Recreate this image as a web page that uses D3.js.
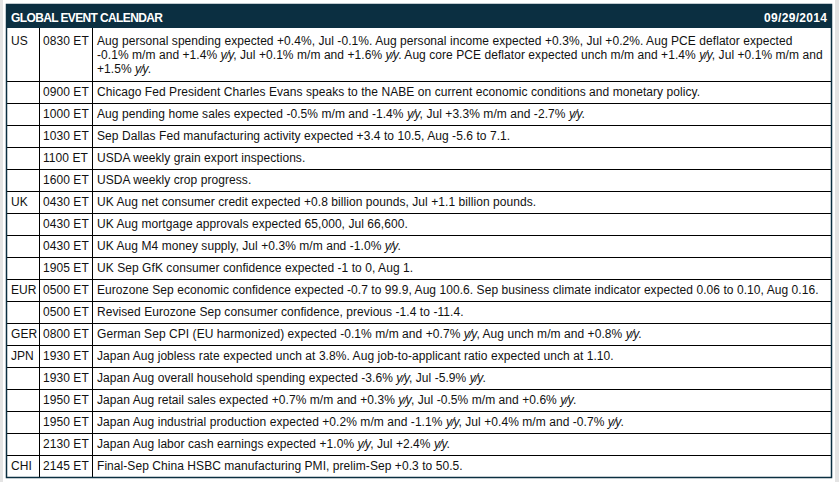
<!DOCTYPE html>
<html>
<head>
<meta charset="utf-8">
<script src="https://cdn.jsdelivr.net/npm/d3@7"></script>
<style>
  body { margin: 0; background: #fff; }
  svg { display: block; font-family: Arial, "Liberation Sans", sans-serif; }
</style>
</head>
<body>
<div id="chart"></div>
<script>
const title = "GLOBAL EVENT CALENDAR";
const dateLabel = "09/29/2014";

const countries = ["US", "", "", "", "", "", "UK", "", "", "", "EUR", "", "GER", "JPN", "", "", "", "", "CHI"];
const times = ["0830 ET", "0900 ET", "1000 ET", "1030 ET", "1100 ET", "1600 ET", "0430 ET", "0430 ET", "0430 ET", "1905 ET",
  "0500 ET", "0500 ET", "0800 ET", "1930 ET", "1930 ET", "1950 ET", "1950 ET", "2130 ET", "2145 ET"];
// "\n" marks where the original cell wraps
const events = [
  "Aug personal spending expected +0.4%, Jul -0.1%. Aug personal income expected +0.3%, Jul +0.2%. Aug PCE deflator expected\n-0.1% m/m and +1.4% y/y, Jul +0.1% m/m and +1.6% y/y. Aug core PCE deflator expected unch m/m and +1.4% y/y, Jul +0.1% m/m and\n+1.5% y/y.",
  "Chicago Fed President Charles Evans speaks to the NABE on current economic conditions and monetary policy.",
  "Aug pending home sales expected -0.5% m/m and -1.4% y/y, Jul +3.3% m/m and -2.7% y/y.",
  "Sep Dallas Fed manufacturing activity expected +3.4 to 10.5, Aug -5.6 to 7.1.",
  "USDA weekly grain export inspections.",
  "USDA weekly crop progress.",
  "UK Aug net consumer credit expected +0.8 billion pounds, Jul +1.1 billion pounds.",
  "UK Aug mortgage approvals expected 65,000, Jul 66,600.",
  "UK Aug M4 money supply, Jul +0.3% m/m and -1.0% y/y.",
  "UK Sep GfK consumer confidence expected -1 to 0, Aug 1.",
  "Eurozone Sep economic confidence expected -0.7 to 99.9, Aug 100.6. Sep business climate indicator expected 0.06 to 0.10, Aug 0.16.",
  "Revised Eurozone Sep consumer confidence, previous -1.4 to -11.4.",
  "German Sep CPI (EU harmonized) expected -0.1% m/m and +0.7% y/y, Aug unch m/m and +0.8% y/y.",
  "Japan Aug jobless rate expected unch at 3.8%. Aug job-to-applicant ratio expected unch at 1.10.",
  "Japan Aug overall household spending expected -3.6% y/y, Jul -5.9% y/y.",
  "Japan Aug retail sales expected +0.7% m/m and +0.3% y/y, Jul -0.5% m/m and +0.6% y/y.",
  "Japan Aug industrial production expected +0.2% m/m and -1.1% y/y, Jul +0.4% m/m and -0.7% y/y.",
  "Japan Aug labor cash earnings expected +1.0% y/y, Jul +2.4% y/y.",
  "Final-Sep China HSBC manufacturing PMI, prelim-Sep +0.3 to 50.5."
];

(function() {
  const W = 839, H = 482;
  const x0 = 6, x1 = 832, y0 = 4, headH = 24;
  const colX = [x0, 39, 92, x1];
  const lineH = 14.2, baseRow = 22, extraPerLine = 15.5;
  const navy = "#0b2f41", ink = "#111";

  const svg = d3.select("#chart").append("svg")
    .attr("width", W).attr("height", H);

  // side gutters
  svg.append("rect").attr("x", 0).attr("y", 0).attr("width", 3).attr("height", H).attr("fill", "#e4e4e4");
  svg.append("rect").attr("x", 835).attr("y", 0).attr("width", 4).attr("height", H).attr("fill", "#e4e4e4");

  // header
  svg.append("rect").attr("x", x0).attr("y", y0).attr("width", x1 - x0).attr("height", headH).attr("fill", navy);
  svg.append("text").attr("x", x0 + 5).attr("y", y0 + 17.8)
    .attr("fill", "#fff").attr("font-size", 12).attr("font-weight", "bold")
    .attr("textLength", 152).attr("lengthAdjust", "spacing").text(title);
  svg.append("text").attr("x", x1 - 68).attr("y", y0 + 17.8)
    .attr("fill", "#fff").attr("font-size", 12).attr("font-weight", "bold")
    .attr("textLength", 63).attr("lengthAdjust", "spacing").text(dateLabel);

  const rows = events.map((e, i) => ({ country: countries[i], time: times[i], lines: e.split("\n") }));

  let y = y0 + headH;
  rows.forEach(r => {
    r.y = y;
    r.h = baseRow + (r.lines.length - 1) * extraPerLine;
    y += r.h;
  });
  const bottom = y;

  const baseline = (d, i) => d.y + d.h / 2 + (i - (d.lines.length - 1) / 2) * lineH + 4.3;

  const g = svg.selectAll("g.row").data(rows).enter().append("g").attr("class", "row")
    .attr("font-size", 12).attr("fill", ink).attr("letter-spacing", "0.06px");

  g.append("line")
    .attr("x1", x0).attr("x2", x1)
    .attr("y1", d => d.y + d.h + 0.5).attr("y2", d => d.y + d.h + 0.5)
    .attr("stroke", "#000").attr("stroke-width", 1);

  g.append("text").attr("x", x0 + 5).attr("y", d => baseline(d, 0)).text(d => d.country);
  g.append("text").attr("x", colX[1] + 4).attr("y", d => baseline(d, 0)).text(d => d.time);

  g.each(function(d) {
    const sel = d3.select(this);
    d.lines.forEach((ln, i) => {
      const t = sel.append("text").attr("x", colX[2] + 5).attr("y", baseline(d, i));
      ln.split(/(y\/y)/).forEach(part => {
        if (!part) return;
        const it = part === "y/y";
        t.append("tspan")
          .attr("font-style", it ? "italic" : null)
          .attr("letter-spacing", it ? "-0.9px" : null)
          .text(part);
      });
    });
  });

  // column separators
  svg.selectAll("line.col").data(colX.slice(1, 3)).enter().append("line")
    .attr("class", "col")
    .attr("x1", d => d + 0.5).attr("x2", d => d + 0.5)
    .attr("y1", y0 + headH).attr("y2", bottom)
    .attr("stroke", "#000");

  // outer border
  svg.append("rect").attr("x", x0 + 0.5).attr("y", y0 + 0.5)
    .attr("width", x1 - x0 - 1).attr("height", bottom - y0)
    .attr("fill", "none").attr("stroke", navy).attr("stroke-width", 1.5);
})();
</script>
</body>
</html>
